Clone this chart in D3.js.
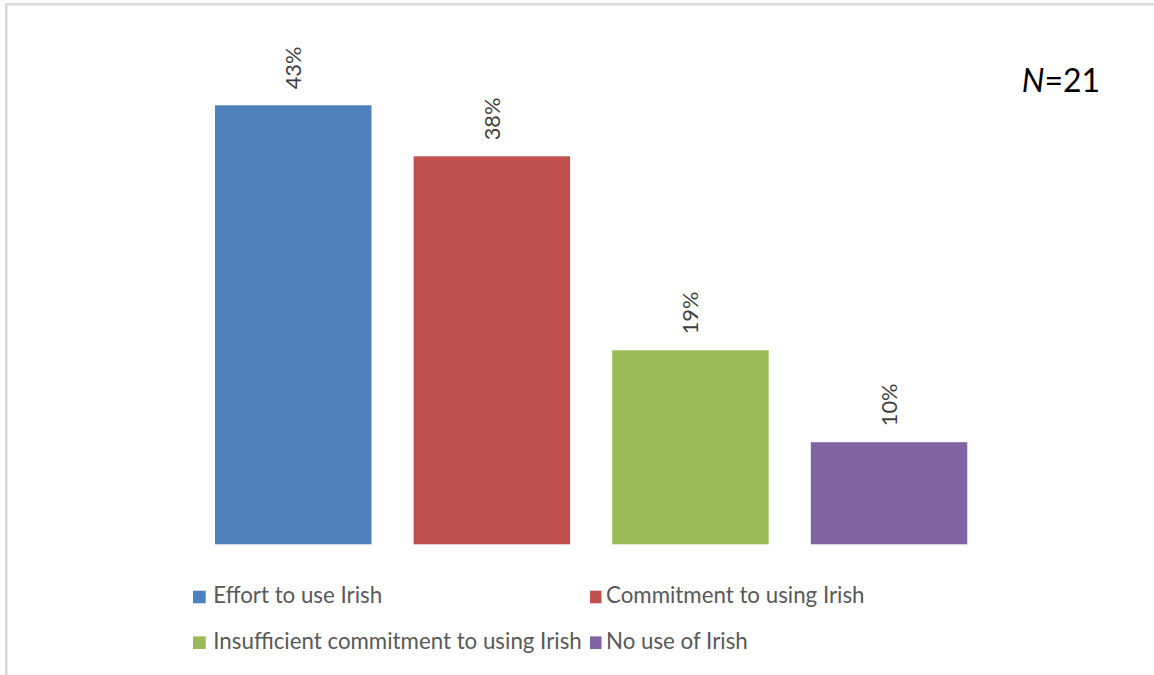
<!DOCTYPE html>
<html><head><meta charset="utf-8">
<script src="https://cdn.jsdelivr.net/npm/d3@7"></script>
<style>html,body{margin:0;padding:0;background:#fff;overflow:hidden}</style>
</head><body>
<svg id="c" width="1154" height="675"></svg>
<script>
const categories = ["Effort to use Irish","Commitment to using Irish","Insufficient commitment to using Irish","No use of Irish"];
const values = [43, 38, 19, 10];
const valueLabels = ["43%","38%","19%","10%"];
const colors = ["#4F81BD","#C0504D","#9BBB59","#8064A2"];
const note = {italic:"N", rest:"=21"};

const FONT = "Lato, 'Open Sans', sans-serif";
const svg = d3.select("#c");
// border (top and left)
svg.append("line").attr("x1",5).attr("x2",1154).attr("y1",4.3).attr("y2",4.3).attr("stroke","#d9d9d9").attr("stroke-width",2.5);
svg.append("line").attr("x1",6.3).attr("x2",6.3).attr("y1",3).attr("y2",675).attr("stroke","#d9d9d9").attr("stroke-width",2.5);

const x = d3.scaleBand().domain(categories).range([175.3, 1007]).paddingInner(0.212).paddingOuter(0.2);
const y = d3.scaleLinear().domain([0, 50]).range([544.3, 33.8]);

svg.selectAll("rect.bar").data(categories).join("rect").attr("class","bar")
  .attr("x", d => x(d)).attr("width", x.bandwidth())
  .attr("y", (d,i) => y(values[i])).attr("height", (d,i) => y(0) - y(values[i]))
  .attr("fill", (d,i) => colors[i]);

svg.selectAll("text.lab").data(categories).join("text").attr("class","lab")
  .attr("transform", (d,i) => `translate(${x(d) + x.bandwidth()/2},${y(values[i]) - 16}) rotate(-90)`)
  .attr("dy","0.36em").attr("text-anchor","start")
  .attr("font-family",FONT).attr("font-size",21.8).attr("fill","#404040")
  .text((d,i) => valueLabels[i]);

const nt = svg.append("text").attr("x",1021.7).attr("y",91.7).attr("font-family",FONT).attr("font-size",32).attr("fill","#000");
nt.append("tspan").attr("font-style","italic").text(note.italic);
nt.append("tspan").text(note.rest);

// legend
const legPos = [[193,603.3],[590,603.3],[193,649],[590,649]];
const lg = svg.selectAll("g.leg").data(categories).join("g").attr("class","leg")
  .attr("transform",(d,i)=>`translate(${legPos[i][0]},${legPos[i][1]})`);
lg.append("rect").attr("x",0).attr("y",-12.6).attr("width",(d,i)=> i%2 ? 11.5 : 12.7).attr("height",12.6).attr("fill",(d,i)=>colors[i]);
lg.append("text").attr("x",(d,i)=> i%2 ? 16 : 20.3).attr("y",0)
  .attr("font-family",FONT).attr("font-size",22.3).attr("fill","#595959").text(d=>d);
</script>
</body></html>
